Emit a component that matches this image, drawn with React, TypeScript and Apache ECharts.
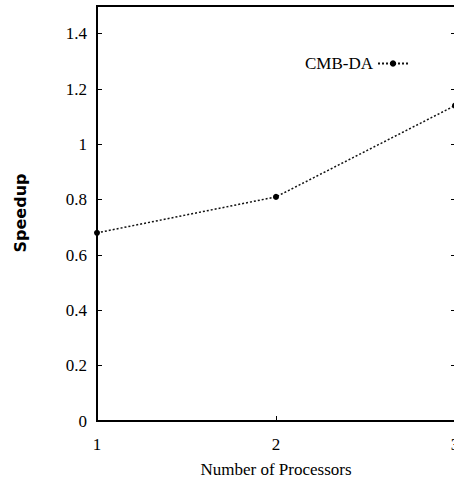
import React, { useEffect, useRef } from "react";
import * as echarts from "echarts";

const processors = [1, 2, 3];
const speedupCmbDa = [0.68, 0.81, 1.14];
const seriesName = "CMB-DA";
const xTitle = "Number of Processors";
const yTitle = "Speedup";

export default function App() {
  const ref = useRef<HTMLDivElement>(null);
  useEffect(() => {
    const chart = echarts.init(ref.current!, null, { renderer: "svg" });
    const serif = "Liberation Serif";
    chart.setOption({
      animation: false,
      backgroundColor: "#ffffff",
      grid: {
        left: 97,
        right: -1,
        top: 6,
        bottom: 59,
        containLabel: false,
        outerBoundsMode: "none",
        show: true,
        borderColor: "#000",
        borderWidth: 2,
        backgroundColor: "transparent",
      },
      legend: {
        left: 300,
        top: 50,
        align: "right",
        itemWidth: 30,
        itemHeight: 8,
        textStyle: { fontFamily: serif, fontSize: 17, color: "#000" },
        data: [seriesName],
      },
      xAxis: {
        type: "value",
        min: 1,
        max: 3,
        interval: 1,
        name: xTitle,
        nameLocation: "middle",
        nameGap: 40,
        nameTextStyle: { fontFamily: serif, fontSize: 17, color: "#000" },
        axisLine: { show: true, lineStyle: { color: "#000", width: 2 } },
        axisTick: { show: true, inside: true, length: 5, lineStyle: { color: "#000" } },
        axisLabel: { fontFamily: serif, fontSize: 17, color: "#000", margin: 15 },
        splitLine: { show: false },
      },
      yAxis: [
        {
          type: "value",
          min: 0,
          max: 1.5,
          interval: 0.2,
          axisLine: { show: true, lineStyle: { color: "#000", width: 2 } },
          axisTick: { show: true, inside: true, length: 5, lineStyle: { color: "#000" } },
          axisLabel: {
            fontFamily: serif,
            fontSize: 17,
            color: "#000",
            margin: 10,
            showMaxLabel: false,
          },
          splitLine: { show: false },
        },
        {
          type: "value",
          position: "right",
          min: 0,
          max: 1.5,
          interval: 0.2,
          axisLine: { show: false },
          axisTick: { show: true, inside: true, length: 4, lineStyle: { color: "#000" } },
          axisLabel: { show: false },
          splitLine: { show: false },
        },
      ],
      graphic: [
        {
          type: "text",
          x: 20,
          y: 213,
          rotation: Math.PI / 2,
          style: {
            text: yTitle,
            fontFamily: "DejaVu Sans",
            fontWeight: "bold",
            fontSize: 16,
            fill: "#000",
            textAlign: "center",
            textVerticalAlign: "middle",
          },
        },
      ],
      series: [
        {
          name: seriesName,
          type: "line",
          yAxisIndex: 0,
          data: processors.map((p, i) => [p, speedupCmbDa[i]]),
          symbol: "circle",
          symbolSize: 6,
          itemStyle: { color: "#000" },
          lineStyle: { color: "#111", width: 1.5, type: [2, 2] },
        },
      ],
    });
    return () => chart.dispose();
  }, []);
  return (
    <div
      ref={ref}
      style={{ position: "fixed", left: 0, top: 0, width: 454, height: 480 }}
    />
  );
}
